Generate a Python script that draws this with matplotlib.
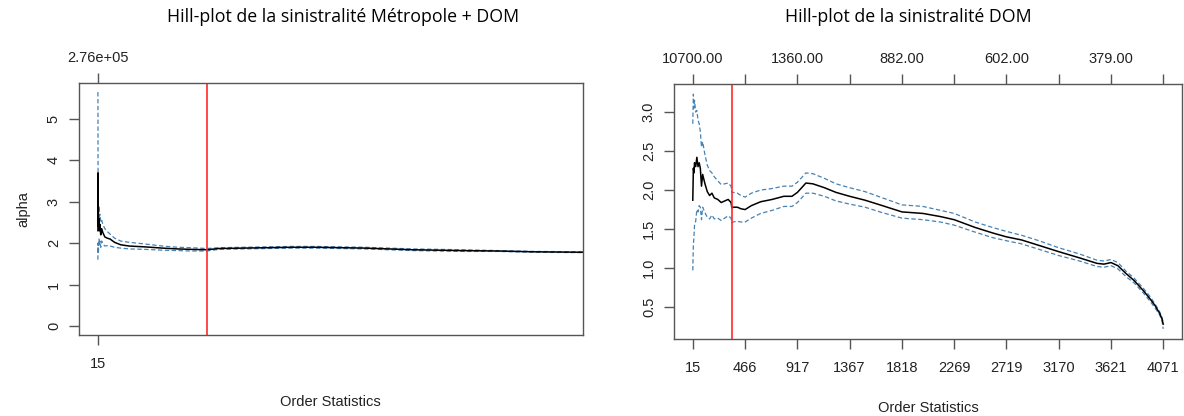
import matplotlib
matplotlib.use("Agg")
import matplotlib.pyplot as plt

# ---- Données : Métropole + DOM ----
k_met = [15, 18, 22, 30, 40, 60, 80, 100, 130, 170, 220, 300, 400, 513, 700, 955,
         1300, 1940, 2670, 3300, 3830, 4500, 5000, 6000, 7000, 8000, 9000, 10000,
         11000, 12000, 13000, 14000, 15000, 16500, 18000, 20000]
alpha_met = [2.30, 3.70, 2.50, 2.90, 2.40, 2.60, 2.30, 2.45, 2.20, 2.35, 2.25, 2.15,
             2.12, 2.10, 2.02, 1.96, 1.93, 1.91, 1.88, 1.86, 1.85, 1.84, 1.87, 1.88,
             1.89, 1.90, 1.90, 1.89, 1.88, 1.86, 1.84, 1.83, 1.82, 1.81, 1.79, 1.78]
upper_met = [5.65, 4.50, 3.00, 2.95, 2.80, 2.90, 2.65, 2.70, 2.50, 2.55, 2.45, 2.35,
             2.28, 2.22, 2.12, 2.05, 2.02, 1.98, 1.93, 1.90, 1.89, 1.87, 1.89, 1.90,
             1.91, 1.92, 1.92, 1.91, 1.90, 1.88, 1.86, 1.85, 1.84, 1.82, 1.80, 1.79]
lower_met = [1.60, 2.00, 1.90, 1.75, 1.85, 2.10, 1.95, 2.05, 1.90, 2.05, 1.98, 1.93,
             1.94, 1.93, 1.90, 1.88, 1.86, 1.85, 1.83, 1.82, 1.81, 1.81, 1.85, 1.86,
             1.87, 1.88, 1.88, 1.87, 1.86, 1.84, 1.82, 1.81, 1.80, 1.80, 1.78, 1.77]
seuil_met = 4500
top_lab_met = ["2.76e+05"]
top_pos_met = [15]

# ---- Données : DOM ----
k_dom = [15, 20, 25, 30, 40, 50, 60, 70, 80, 90, 100, 120, 140, 160, 180, 200, 230,
         260, 290, 320, 345, 352, 360, 400, 430, 466, 520, 600, 700, 800, 870, 917,
         960, 990, 1050, 1150, 1250, 1367, 1500, 1650, 1818, 2000, 2150, 2269, 2450,
         2600, 2719, 2850, 3000, 3170, 3350, 3500, 3560, 3621, 3680, 3750, 3820,
         3900, 3960, 4000, 4040, 4060, 4071]
alpha_dom = [1.87, 2.28, 2.22, 2.35, 2.30, 2.42, 2.30, 2.35, 2.28, 2.05, 2.20, 2.08,
             1.98, 1.93, 1.96, 1.90, 1.88, 1.84, 1.86, 1.88, 1.84, 1.77, 1.78, 1.78,
             1.76, 1.75, 1.80, 1.85, 1.88, 1.92, 1.92, 1.97, 2.04, 2.09, 2.08, 2.03,
             1.97, 1.92, 1.87, 1.80, 1.72, 1.70, 1.66, 1.62, 1.52, 1.45, 1.40, 1.36,
             1.29, 1.21, 1.13, 1.06, 1.05, 1.07, 1.03, 0.93, 0.84, 0.71, 0.60, 0.52,
             0.42, 0.35, 0.28]
upper_dom = [2.85, 3.23, 3.05, 3.15, 3.00, 3.02, 2.90, 2.85, 2.75, 2.55, 2.62, 2.45,
             2.32, 2.25, 2.22, 2.17, 2.12, 2.07, 2.08, 2.09, 2.05, 1.97, 1.97, 1.96,
             1.93, 1.91, 1.96, 2.00, 2.02, 2.05, 2.05, 2.10, 2.17, 2.22, 2.21, 2.15,
             2.08, 2.03, 1.98, 1.90, 1.81, 1.79, 1.74, 1.70, 1.59, 1.52, 1.47, 1.42,
             1.35, 1.26, 1.18, 1.10, 1.09, 1.11, 1.07, 0.96, 0.87, 0.74, 0.63, 0.54,
             0.44, 0.37, 0.30]
lower_dom = [0.97, 1.30, 1.40, 1.55, 1.60, 1.75, 1.72, 1.80, 1.78, 1.62, 1.78, 1.71,
             1.65, 1.63, 1.68, 1.63, 1.64, 1.61, 1.64, 1.67, 1.64, 1.58, 1.59, 1.60,
             1.59, 1.59, 1.64, 1.70, 1.74, 1.79, 1.79, 1.84, 1.91, 1.96, 1.96, 1.92,
             1.86, 1.82, 1.78, 1.71, 1.64, 1.62, 1.59, 1.55, 1.46, 1.39, 1.35, 1.31,
             1.24, 1.16, 1.09, 1.02, 1.01, 1.03, 0.99, 0.89, 0.81, 0.68, 0.57, 0.49,
             0.40, 0.33, 0.22]
seuil_dom = 352
bottom_ticks_dom = [15, 466, 917, 1367, 1818, 2269, 2719, 3170, 3621, 4071]
top_lab_dom = ["10700.00", "", "1360.00", "", "882.00", "", "602.00", "", "379.00", ""]

plt.rcParams['font.family'] = ['Liberation Sans', 'DejaVu Sans']
BLEU = '#4682b4'
CADRE = '#555555'
TEXTE = '#222222'

fig = plt.figure(figsize=(11.84, 4.16), dpi=100)


def style_axe(ax):
    for s in ax.spines.values():
        s.set_color(CADRE)
        s.set_linewidth(1.0)
    ax.tick_params(axis='both', length=7, width=1.0, color=CADRE,
                   labelsize=10.5, labelcolor=TEXTE, pad=9)
    ax.tick_params(axis='y', labelrotation=90, pad=6)
    for lab in ax.get_yticklabels():
        lab.set_verticalalignment('center')


def axe_haut(ax, pos, labels):
    t = ax.secondary_xaxis('top')
    t.set_xticks(pos)
    t.set_xticklabels(labels)
    t.tick_params(length=7, width=1.0, color=CADRE, labelsize=10.5,
                  labelcolor=TEXTE, pad=6)
    t.spines['top'].set_visible(False)


def hill(ax, k, a, up, lo, seuil):
    ax.plot(k, up, color=BLEU, lw=0.9, ls=(0, (3.5, 2)))
    ax.plot(k, lo, color=BLEU, lw=0.9, ls=(0, (3.5, 2)))
    ax.plot(k, a, color='black', lw=1.1)
    ax.axvline(seuil, color='#ff2a2a', lw=1.2)


# Panneau gauche
ax1 = fig.add_axes([79 / 1184, 81 / 416, 504 / 1184, 252 / 416])
hill(ax1, k_met, alpha_met, upper_met, lower_met, seuil_met)
ax1.set_xlim(15 - 780, 20000)
ax1.set_ylim(-0.22, 5.87)
ax1.set_xticks([15])
ax1.set_yticks([0, 1, 2, 3, 4, 5])
style_axe(ax1)
axe_haut(ax1, top_pos_met, top_lab_met)
ax1.set_ylabel('alpha', fontsize=10.5, color=TEXTE, labelpad=12)
fig.text(330 / 1184, 1 - 402 / 416, 'Order Statistics', ha='center', va='center',
         fontsize=10.5, color=TEXTE)

# Panneau droit
ax2 = fig.add_axes([674 / 1184, 77 / 416, 508 / 1184, 255 / 416])
hill(ax2, k_dom, alpha_dom, upper_dom, lower_dom, seuil_dom)
ax2.set_xlim(15 - 162, 4071 + 162)
ax2.set_ylim(0.09, 3.36)
ax2.set_xticks(bottom_ticks_dom)
ax2.set_yticks([0.5, 1.0, 1.5, 2.0, 2.5, 3.0])
ax2.set_yticklabels(['0.5', '1.0', '1.5', '2.0', '2.5', '3.0'])
style_axe(ax2)
axe_haut(ax2, bottom_ticks_dom, top_lab_dom)
fig.text(928 / 1184, 1 - 408 / 416, 'Order Statistics', ha='center', va='center',
         fontsize=10.5, color=TEXTE)

# Titres
fig.text(343 / 1184, 1 - 17 / 416, 'Hill-plot de la sinistralité Métropole + DOM',
         ha='center', va='center', fontsize=12.8, family=['Open Sans', 'DejaVu Sans'])
fig.text(908 / 1184, 1 - 17 / 416, 'Hill-plot de la sinistralité DOM',
         ha='center', va='center', fontsize=12.8, family=['Open Sans', 'DejaVu Sans'])

fig.savefig('out.png', dpi=100)
